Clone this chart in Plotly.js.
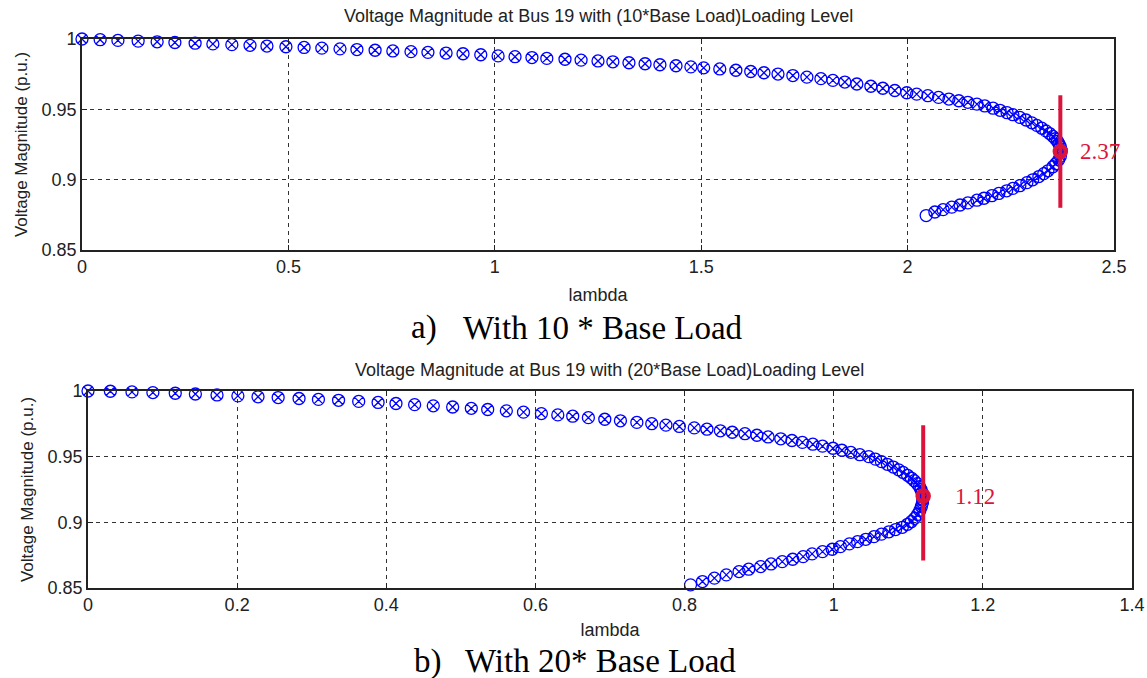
<!DOCTYPE html>
<html>
<head>
<meta charset="utf-8">
<script src="https://cdn.plot.ly/plotly-3.0.1.min.js"></script>
<style>html,body{margin:0;padding:0;background:#fff;}#chart{width:1147px;height:678px;}</style>
</head>
<body>
<div id="chart"></div>
<script>
// ---- (a) 10 * Base Load ----
const lambda10Upper = [0,0.044,0.087,0.136,0.182,0.225,0.274,0.317,0.363,0.407,0.448,0.494,0.538,0.581,0.625,0.666,0.710,0.753,0.797,0.838,
  0.882,0.923,0.966,1.008,1.049,1.090,1.126,1.170,1.209,1.250,1.286,1.325,1.364,1.400,1.439,1.475,1.506,1.545,1.584,1.620,1.652,1.686,1.722,1.756,1.790,1.819,1.848,
  1.877,1.911,1.940,1.969,1.998,2.022,2.049,2.075,2.100,2.124,2.146,2.168,2.187,2.207,2.224,2.241,2.255,2.272,2.287,2.301,2.313,2.325,2.335,2.344,2.352,2.358,2.363,2.367,2.370,2.372];
const v10Upper = [1.0000,0.9995,0.9990,0.9985,0.9980,0.9975,0.9970,0.9965,0.9960,0.9955,0.9950,0.9945,0.9940,0.9935,0.9930,0.9925,0.9920,0.9915,0.9910,0.9905,
  0.9900,0.9895,0.9888,0.9880,0.9874,0.9868,0.9862,0.9856,0.9850,0.9844,0.9838,0.9831,0.9824,0.9817,0.9810,0.9802,0.9795,0.9787,0.9778,0.9769,0.9760,0.9751,0.9740,0.9729,0.9718,0.9706,0.9694,
  0.9680,0.9664,0.9650,0.9634,0.9618,0.9608,0.9597,0.9585,0.9573,0.9561,0.9550,0.9537,0.9524,0.9508,0.9493,0.9476,0.9462,0.9443,0.9424,0.9404,0.9386,0.9366,0.9347,0.9328,0.9308,0.9291,0.9273,0.9254,0.9234,0.9210];
const lambda10Lower = [2.370,2.366,2.359,2.352,2.340,2.330,2.318,2.303,2.289,2.272,2.255,2.240,2.221,2.204,2.185,2.168,2.146,2.127,2.107,2.086,2.066,2.045];
const v10Lower = [0.9166,0.9141,0.9113,0.9092,0.9063,0.9043,0.9022,0.8999,0.8979,0.8957,0.8938,0.8921,0.8902,0.8886,0.8868,0.8854,0.8835,0.8820,0.8805,0.8787,0.8770,0.8745];
const critLambda10 = 2.37, critV10 = 0.92, critBar10 = [0.96, 0.88], critLabel10 = "2.37";

// ---- (b) 20 * Base Load ----
const lambda20Upper = [0,0.030,0.059,0.087,0.117,0.144,0.173,0.201,0.228,0.255,0.283,0.309,0.336,0.363,0.389,0.413,0.438,0.463,0.489,0.514,
  0.536,0.561,0.584,0.608,0.630,0.650,0.671,0.693,0.714,0.736,0.756,0.775,0.793,0.813,0.830,0.848,0.864,0.881,0.897,0.912,0.929,0.944,0.958,0.972,0.985,0.999,
  1.011,1.023,1.035,1.047,1.056,1.064,1.072,1.080,1.087,1.093,1.099,1.104,1.108,1.112,1.115,1.117,1.1185,1.119];
const v20Upper = [1.0000,0.9998,0.9993,0.9988,0.9983,0.9977,0.9970,0.9963,0.9956,0.9950,0.9943,0.9936,0.9929,0.9921,0.9913,0.9905,0.9896,0.9887,0.9878,0.9868,
  0.9859,0.9849,0.9839,0.9828,0.9818,0.9808,0.9797,0.9785,0.9773,0.9761,0.9751,0.9740,0.9730,0.9719,0.9709,0.9697,0.9686,0.9675,0.9663,0.9650,0.9636,0.9623,0.9609,0.9595,0.9580,0.9564,
  0.9549,0.9533,0.9515,0.9500,0.9481,0.9462,0.9442,0.9421,0.9400,0.9380,0.9358,0.9337,0.9317,0.9294,0.9271,0.9250,0.9225,0.9200];
const lambda20Lower = [1.1195,1.119,1.1175,1.1155,1.1125,1.1085,1.104,1.099,1.092,1.083,1.074,1.064,1.054,1.043,1.032,1.021,1.009,0.998,0.985,0.971,0.959,0.945,0.931,0.916,0.902,0.886,0.873,0.856,0.840,0.824,0.808];
const v20Lower = [0.9175,0.9150,0.9120,0.9090,0.9060,0.9030,0.9005,0.8985,0.8962,0.8945,0.8928,0.8910,0.8891,0.8871,0.8853,0.8836,0.8815,0.8795,0.8777,0.8760,0.8739,0.8719,0.8701,0.8683,0.8663,0.8643,0.8625,0.8600,0.8575,0.8549,0.8524];
const critLambda20 = 1.12, critV20 = 0.92, critBar20 = [0.974, 0.871], critLabel20 = "1.12";

// ---- text ----
const title10 = "Voltage Magnitude at Bus 19 with (10*Base Load)Loading Level";
const title20 = "Voltage Magnitude at Bus 19 with (20*Base Load)Loading Level";
const xTitle = "lambda";
const yTitle = "Voltage Magnitude (p.u.)";
const captionA = ["a)", "With 10 * Base Load"];
const captionB = ["b)", "With 20* Base Load"];

const BLUE = "#0000FF", RED = "#DC143C";
const SANS = "Liberation Sans, Arial, sans-serif";
const SERIF = "Liberation Serif, Times New Roman, serif";
const TXT = "#222";

function symbols(n){ const s = []; for (let i = 0; i < n; i++) s.push(i === n - 1 ? "circle-open" : "circle-x-open"); return s; }

function curveTraces(lu, vu, ll, vl, cl, cv, bar, xa, ya){
  const xs = lu.concat(ll), ys = vu.concat(vl);
  return [
    {x: xs, y: ys, xaxis: xa, yaxis: ya, type: "scatter", mode: "markers", cliponaxis: false,
     marker: {symbol: symbols(xs.length), size: 12, color: BLUE, line: {color: BLUE, width: 1.3}}, hoverinfo: "x+y"},
    {x: [cl, cl], y: bar, xaxis: xa, yaxis: ya, type: "scatter", mode: "lines", cliponaxis: false,
     line: {color: RED, width: 4}, hoverinfo: "skip"},
    {x: [cl], y: [cv], xaxis: xa, yaxis: ya, type: "scatter", mode: "markers", cliponaxis: false,
     marker: {symbol: "circle-open", size: 11, color: RED, line: {color: RED, width: 4.5}}, hoverinfo: "skip"}
  ];
}

const data = curveTraces(lambda10Upper, v10Upper, lambda10Lower, v10Lower, critLambda10, critV10, critBar10, "x", "y")
  .concat(curveTraces(lambda20Upper, v20Upper, lambda20Lower, v20Lower, critLambda20, critV20, critBar20, "x2", "y2"));

function axisBase(extra){
  return Object.assign({
    showline: true, linecolor: "#222", linewidth: 1.6, mirror: "ticks",
    ticks: "inside", ticklen: 5, tickcolor: "#222", tickwidth: 1,
    showgrid: true, gridcolor: "#333", gridwidth: 1, griddash: "4px,4px",
    zeroline: false, fixedrange: true,
    tickfont: {family: SANS, size: 18, color: TXT}
  }, extra);
}

const W = 1147, H = 678;
const px = v => v / W, py = v => 1 - v / H;

const layout = {
  width: W, height: H,
  margin: {l: 0, r: 0, t: 0, b: 0},
  paper_bgcolor: "#fff", plot_bgcolor: "#fff",
  showlegend: false,
  xaxis: axisBase({domain: [px(82), px(1114)], range: [0, 2.5], dtick: 0.5, anchor: "y",
    title: {text: xTitle, font: {family: SANS, size: 18, color: TXT}, standoff: 12}}),
  yaxis: axisBase({domain: [py(250), py(39)], range: [0.85, 1], dtick: 0.05, anchor: "x",
    title: {text: yTitle, font: {family: SANS, size: 17, color: TXT}, standoff: 10}}),
  xaxis2: axisBase({domain: [px(88), px(1132)], range: [0, 1.4], dtick: 0.2, anchor: "y2",
    title: {text: xTitle, font: {family: SANS, size: 18, color: TXT}, standoff: 9}}),
  yaxis2: axisBase({domain: [py(588), py(391)], range: [0.85, 1], dtick: 0.05, anchor: "x2",
    title: {text: yTitle, font: {family: SANS, size: 17, color: TXT}, standoff: 10}}),
  annotations: [
    {text: title10, xref: "paper", yref: "paper", x: px(598), y: py(16), xanchor: "center", yanchor: "middle", showarrow: false,
     font: {family: SANS, size: 18, color: TXT}},
    {text: title20, xref: "paper", yref: "paper", x: px(609), y: py(370), xanchor: "center", yanchor: "middle", showarrow: false,
     font: {family: SANS, size: 18, color: TXT}},
    {text: critLabel10, xref: "x", yref: "y", x: critLambda10, y: critV10, xanchor: "left", yanchor: "middle", xshift: 18, showarrow: false,
     font: {family: SERIF, size: 23, color: RED}},
    {text: critLabel20, xref: "x2", yref: "y2", x: critLambda20, y: critV20, xanchor: "left", yanchor: "middle", xshift: 30, showarrow: false,
     font: {family: SERIF, size: 23, color: RED}},
    {text: captionA[0], xref: "paper", yref: "paper", x: px(409), y: py(328), xanchor: "left", yanchor: "middle", showarrow: false,
     font: {family: SERIF, size: 33, color: "#000"}},
    {text: captionA[1], xref: "paper", yref: "paper", x: px(461), y: py(328), xanchor: "left", yanchor: "middle", showarrow: false,
     font: {family: SERIF, size: 33, color: "#000"}},
    {text: captionB[0], xref: "paper", yref: "paper", x: px(412), y: py(661), xanchor: "left", yanchor: "middle", showarrow: false,
     font: {family: SERIF, size: 33, color: "#000"}},
    {text: captionB[1], xref: "paper", yref: "paper", x: px(463), y: py(661), xanchor: "left", yanchor: "middle", showarrow: false,
     font: {family: SERIF, size: 33, color: "#000"}}
  ]
};

Plotly.newPlot("chart", data, layout, {displayModeBar: false});
</script>
</body>
</html>
